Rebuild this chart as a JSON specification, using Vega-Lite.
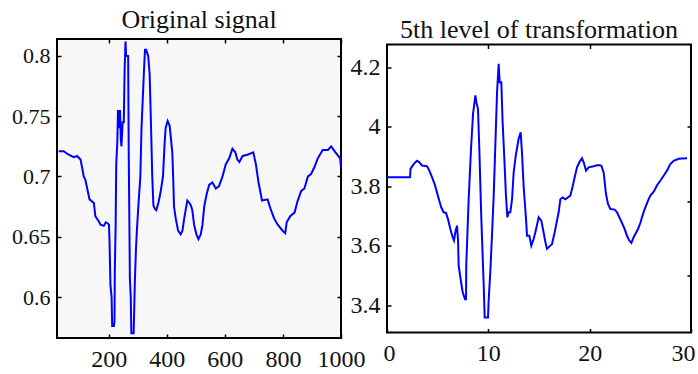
{
  "$schema": "https://vega.github.io/schema/vega-lite/v6.json",
  "background": "white",
  "padding": {"left": 10, "top": 6, "right": 5, "bottom": 5},
  "bounds": "flush",
  "center": true,
  "spacing": 46,
  "config": {
    "font": "Liberation Serif",
    "view": {"stroke": "black", "strokeWidth": 2},
    "axis": {"grid": false, "domain": false, "ticks": true, "tickColor": "black", "tickSize": -4, "tickWidth": 1.5, "labelColor": "#111111", "labelFont": "Liberation Serif", "labelOverlap": false, "labelBound": false, "title": null},
    "title": {"font": "Liberation Serif", "fontSize": 26, "fontWeight": "normal", "color": "#111111", "baseline": "alphabetic", "anchor": "middle", "frame": "group"}
  },
  "datasets": {
    "orig": [
      {"n": 28, "v": 0.721}, {"n": 45, "v": 0.721}, {"n": 62, "v": 0.718}, {"n": 80, "v": 0.716}, {"n": 91, "v": 0.717},
      {"n": 103, "v": 0.714}, {"n": 108, "v": 0.708}, {"n": 114, "v": 0.700}, {"n": 120, "v": 0.697}, {"n": 126, "v": 0.690},
      {"n": 134, "v": 0.681}, {"n": 149, "v": 0.678}, {"n": 154, "v": 0.667}, {"n": 165, "v": 0.663}, {"n": 172, "v": 0.660},
      {"n": 183, "v": 0.659}, {"n": 190, "v": 0.662}, {"n": 197, "v": 0.661}, {"n": 201, "v": 0.660}, {"n": 203, "v": 0.645},
      {"n": 206, "v": 0.610}, {"n": 210, "v": 0.600}, {"n": 212, "v": 0.576}, {"n": 218, "v": 0.576}, {"n": 220, "v": 0.580},
      {"n": 221, "v": 0.620}, {"n": 224, "v": 0.660}, {"n": 226, "v": 0.710}, {"n": 230, "v": 0.730}, {"n": 232, "v": 0.755},
      {"n": 235, "v": 0.745}, {"n": 237, "v": 0.740}, {"n": 239, "v": 0.755}, {"n": 242, "v": 0.730}, {"n": 244, "v": 0.725},
      {"n": 248, "v": 0.745}, {"n": 252, "v": 0.745}, {"n": 255, "v": 0.790}, {"n": 258, "v": 0.812}, {"n": 260, "v": 0.800},
      {"n": 267, "v": 0.800}, {"n": 269, "v": 0.720}, {"n": 273, "v": 0.615}, {"n": 276, "v": 0.600}, {"n": 278, "v": 0.570},
      {"n": 286, "v": 0.570}, {"n": 290, "v": 0.612}, {"n": 294, "v": 0.640}, {"n": 297, "v": 0.655}, {"n": 302, "v": 0.675},
      {"n": 309, "v": 0.700}, {"n": 313, "v": 0.740}, {"n": 321, "v": 0.785}, {"n": 325, "v": 0.805}, {"n": 329, "v": 0.805},
      {"n": 336, "v": 0.800}, {"n": 341, "v": 0.785}, {"n": 346, "v": 0.740}, {"n": 350, "v": 0.700}, {"n": 354, "v": 0.676},
      {"n": 359, "v": 0.673}, {"n": 364, "v": 0.672}, {"n": 371, "v": 0.678}, {"n": 378, "v": 0.686}, {"n": 387, "v": 0.700},
      {"n": 392, "v": 0.725}, {"n": 396, "v": 0.740}, {"n": 403, "v": 0.746}, {"n": 410, "v": 0.742}, {"n": 419, "v": 0.720},
      {"n": 422, "v": 0.700}, {"n": 425, "v": 0.675}, {"n": 431, "v": 0.665}, {"n": 439, "v": 0.655}, {"n": 448, "v": 0.652},
      {"n": 454, "v": 0.655}, {"n": 460, "v": 0.665}, {"n": 465, "v": 0.672}, {"n": 471, "v": 0.680}, {"n": 478, "v": 0.678},
      {"n": 483, "v": 0.676}, {"n": 488, "v": 0.672}, {"n": 494, "v": 0.660}, {"n": 502, "v": 0.652}, {"n": 509, "v": 0.648},
      {"n": 517, "v": 0.652}, {"n": 523, "v": 0.660}, {"n": 529, "v": 0.675}, {"n": 537, "v": 0.685}, {"n": 546, "v": 0.693},
      {"n": 557, "v": 0.695}, {"n": 569, "v": 0.690}, {"n": 580, "v": 0.692}, {"n": 592, "v": 0.700}, {"n": 603, "v": 0.710},
      {"n": 615, "v": 0.715}, {"n": 626, "v": 0.723}, {"n": 636, "v": 0.720}, {"n": 643, "v": 0.714}, {"n": 650, "v": 0.712},
      {"n": 661, "v": 0.717}, {"n": 678, "v": 0.718}, {"n": 698, "v": 0.720}, {"n": 707, "v": 0.710}, {"n": 716, "v": 0.695},
      {"n": 728, "v": 0.680}, {"n": 747, "v": 0.681}, {"n": 759, "v": 0.672}, {"n": 770, "v": 0.665}, {"n": 782, "v": 0.660},
      {"n": 799, "v": 0.655}, {"n": 808, "v": 0.653}, {"n": 813, "v": 0.662}, {"n": 825, "v": 0.667}, {"n": 840, "v": 0.670},
      {"n": 851, "v": 0.680}, {"n": 863, "v": 0.688}, {"n": 874, "v": 0.690}, {"n": 886, "v": 0.700}, {"n": 897, "v": 0.702},
      {"n": 909, "v": 0.708}, {"n": 920, "v": 0.715}, {"n": 937, "v": 0.722}, {"n": 955, "v": 0.722}, {"n": 966, "v": 0.725},
      {"n": 981, "v": 0.720}, {"n": 997, "v": 0.715}, {"n": 1000, "v": 0.708}
    ],
    "level5": [
      {"k": 0, "w": 3.831}, {"k": 2.28, "w": 3.831}, {"k": 2.32, "w": 3.859}, {"k": 2.63, "w": 3.875}, {"k": 2.96, "w": 3.886},
      {"k": 3.2, "w": 3.881}, {"k": 3.45, "w": 3.870}, {"k": 3.95, "w": 3.868}, {"k": 4.18, "w": 3.853}, {"k": 4.44, "w": 3.831},
      {"k": 4.70, "w": 3.808}, {"k": 4.93, "w": 3.780}, {"k": 5.16, "w": 3.752}, {"k": 5.36, "w": 3.729}, {"k": 5.59, "w": 3.713},
      {"k": 5.82, "w": 3.711}, {"k": 6.02, "w": 3.690}, {"k": 6.25, "w": 3.657}, {"k": 6.48, "w": 3.629}, {"k": 6.61, "w": 3.618},
      {"k": 6.74, "w": 3.646}, {"k": 6.91, "w": 3.668}, {"k": 7.01, "w": 3.618}, {"k": 7.07, "w": 3.534}, {"k": 7.34, "w": 3.472},
      {"k": 7.47, "w": 3.444}, {"k": 7.70, "w": 3.421}, {"k": 7.80, "w": 3.421}, {"k": 7.82, "w": 3.534}, {"k": 8.06, "w": 3.757},
      {"k": 8.29, "w": 3.926}, {"k": 8.49, "w": 4.044}, {"k": 8.72, "w": 4.106}, {"k": 8.82, "w": 4.083}, {"k": 8.98, "w": 4.060},
      {"k": 9.11, "w": 3.926}, {"k": 9.31, "w": 3.690}, {"k": 9.54, "w": 3.472}, {"k": 9.64, "w": 3.359}, {"k": 9.97, "w": 3.359},
      {"k": 10.03, "w": 3.416}, {"k": 10.20, "w": 3.516}, {"k": 10.36, "w": 3.634}, {"k": 10.53, "w": 3.769}, {"k": 10.69, "w": 3.937},
      {"k": 10.86, "w": 4.116}, {"k": 11.02, "w": 4.212}, {"k": 11.12, "w": 4.150}, {"k": 11.28, "w": 4.150}, {"k": 11.41, "w": 4.016},
      {"k": 11.58, "w": 3.893}, {"k": 11.74, "w": 3.769}, {"k": 11.88, "w": 3.696}, {"k": 12.01, "w": 3.713}, {"k": 12.17, "w": 3.713},
      {"k": 12.34, "w": 3.757}, {"k": 12.50, "w": 3.847}, {"k": 12.73, "w": 3.909}, {"k": 12.99, "w": 3.960}, {"k": 13.19, "w": 3.982},
      {"k": 13.32, "w": 3.914}, {"k": 13.49, "w": 3.797}, {"k": 13.72, "w": 3.690}, {"k": 13.82, "w": 3.634}, {"k": 14.05, "w": 3.634},
      {"k": 14.24, "w": 3.601}, {"k": 14.47, "w": 3.623}, {"k": 14.64, "w": 3.646}, {"k": 14.97, "w": 3.696}, {"k": 15.23, "w": 3.685},
      {"k": 15.39, "w": 3.657}, {"k": 15.63, "w": 3.613}, {"k": 15.79, "w": 3.590}, {"k": 16.12, "w": 3.601}, {"k": 16.28, "w": 3.606},
      {"k": 16.55, "w": 3.646}, {"k": 16.71, "w": 3.674}, {"k": 16.94, "w": 3.713}, {"k": 17.11, "w": 3.757}, {"k": 17.34, "w": 3.763},
      {"k": 17.60, "w": 3.757}, {"k": 18.09, "w": 3.769}, {"k": 18.26, "w": 3.791}, {"k": 18.52, "w": 3.831}, {"k": 18.75, "w": 3.864},
      {"k": 18.98, "w": 3.881}, {"k": 19.24, "w": 3.895}, {"k": 19.41, "w": 3.881}, {"k": 19.64, "w": 3.853}, {"k": 19.90, "w": 3.864},
      {"k": 20.39, "w": 3.868}, {"k": 20.82, "w": 3.872}, {"k": 21.15, "w": 3.870}, {"k": 21.38, "w": 3.847}, {"k": 21.61, "w": 3.775},
      {"k": 21.81, "w": 3.741}, {"k": 22.04, "w": 3.724}, {"k": 22.47, "w": 3.722}, {"k": 22.70, "w": 3.713}, {"k": 22.93, "w": 3.696},
      {"k": 23.19, "w": 3.677}, {"k": 23.45, "w": 3.657}, {"k": 23.68, "w": 3.634}, {"k": 23.91, "w": 3.618}, {"k": 24.11, "w": 3.610},
      {"k": 24.34, "w": 3.629}, {"k": 24.51, "w": 3.640}, {"k": 24.77, "w": 3.657}, {"k": 25.00, "w": 3.677}, {"k": 25.16, "w": 3.696},
      {"k": 25.43, "w": 3.724}, {"k": 25.76, "w": 3.752}, {"k": 25.99, "w": 3.769}, {"k": 26.32, "w": 3.782}, {"k": 26.64, "w": 3.803},
      {"k": 26.97, "w": 3.819}, {"k": 27.30, "w": 3.836}, {"k": 27.63, "w": 3.853}, {"k": 27.96, "w": 3.875}, {"k": 28.29, "w": 3.886},
      {"k": 28.78, "w": 3.893}, {"k": 29.61, "w": 3.895}
    ]
  },
  "hconcat": [
    {
      "width": 284,
      "height": 299,
      "title": {"text": "Original signal", "offset": 5},
      "view": {"fill": "#f7f7f7", "stroke": "black", "strokeWidth": 2},
      "data": {"name": "orig"},
      "layer": [
        {
          "mark": {"type": "line", "color": "#0000ff", "strokeWidth": 2, "clip": true},
          "encoding": {
            "x": {"field": "n", "type": "quantitative", "scale": {"domain": [22, 1000], "nice": false, "zero": false},
                  "axis": {"orient": "bottom", "values": [200, 400, 600, 800, 1000], "format": "d", "labelFontSize": 24, "labelPadding": 13, "labelFlush": false, "labelAlign": "center"}},
            "y": {"field": "v", "type": "quantitative", "scale": {"domain": [0.566, 0.814], "nice": false, "zero": false},
                  "axis": {"orient": "left", "values": [0.6, 0.65, 0.7, 0.75, 0.8], "format": "~g", "labelFontSize": 22, "labelPadding": 11, "labelFlush": false}}
          }
        },
        {
          "mark": {"type": "line", "strokeOpacity": 0},
          "encoding": {
            "x": {"field": "n", "type": "quantitative", "scale": {"domain": [22, 1000], "nice": false, "zero": false}, "axis": {"orient": "top", "labels": false, "values": [200, 400, 600, 800, 1000]}},
            "y": {"field": "v", "type": "quantitative", "scale": {"domain": [0.566, 0.814], "nice": false, "zero": false}, "axis": {"orient": "right", "labels": false, "values": [0.6, 0.65, 0.7, 0.75, 0.8]}}
          }
        }
      ],
      "resolve": {"axis": {"x": "independent", "y": "independent"}}
    },
    {
      "width": 304,
      "height": 288,
      "title": {"text": "5th level of transformation", "offset": 1},
      "view": {"fill": "white", "stroke": "black", "strokeWidth": 2},
      "data": {"name": "level5"},
      "layer": [
        {
          "mark": {"type": "line", "color": "#0000ff", "strokeWidth": 2, "clip": true},
          "encoding": {
            "x": {"field": "k", "type": "quantitative", "scale": {"domain": [0, 30], "nice": false, "zero": false},
                  "axis": {"orient": "bottom", "values": [0, 10, 20, 30], "format": "d", "labelFontSize": 24, "labelPadding": 13, "labelFlush": true, "labelFlushOffset": 4}},
            "y": {"field": "w", "type": "quantitative", "scale": {"domain": [3.309, 4.277], "nice": false, "zero": false},
                  "axis": {"orient": "left", "values": [3.4, 3.6, 3.8, 4, 4.2], "format": "~g", "labelFontSize": 24, "labelPadding": 11, "labelFlush": false}}
          }
        },
        {
          "mark": {"type": "line", "strokeOpacity": 0},
          "encoding": {
            "x": {"field": "k", "type": "quantitative", "scale": {"domain": [0, 30], "nice": false, "zero": false}, "axis": {"orient": "top", "labels": false, "values": [10, 20]}},
            "y": {"field": "w", "type": "quantitative", "scale": {"domain": [3.309, 4.277], "nice": false, "zero": false}, "axis": {"orient": "right", "labels": false, "values": [3.5, 3.75, 4]}}
          }
        }
      ],
      "resolve": {"axis": {"x": "independent", "y": "independent"}}
    }
  ]
}
